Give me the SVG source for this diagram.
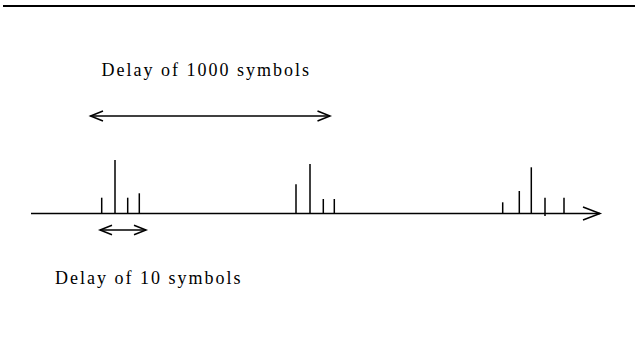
<svg xmlns="http://www.w3.org/2000/svg" width="635" height="340" viewBox="0 0 635 340">
<style>
.ln{stroke:#000;stroke-width:1.5;fill:none}
.hd{stroke:#000;stroke-width:1.5;fill:none;stroke-linejoin:miter}
text{font-family:'Liberation Serif','Times New Roman',Times,serif;font-size:18px;letter-spacing:2px;fill:#000}
</style>
<rect width="635" height="340" fill="#fff"/>
<line x1="3" y1="6" x2="635" y2="6" stroke="#000" stroke-width="1.8"/>
<g id="label-1000"><text x="101.5" y="76">Delay of 1000 symbols</text></g>
<g id="label-10"><text x="55" y="284">Delay of 10 symbols</text></g>
<g id="connectors">
  <g id="arrow-1000">
    <line class="ln" x1="90.5" y1="116" x2="330" y2="116"/>
    <polyline class="hd" points="103,111 90.5,116 103,121"/>
    <polyline class="hd" points="317.5,111 330,116 317.5,121"/>
  </g>
  <g id="arrow-10">
    <line class="ln" x1="100" y1="230" x2="146" y2="230"/>
    <polyline class="hd" points="112,225.3 100,230 112,234.7"/>
    <polyline class="hd" points="134,225.3 146,230 134,234.7"/>
  </g>
  <g id="axis">
    <line class="ln" x1="31" y1="213.5" x2="600" y2="213.5"/>
    <polyline class="hd" points="583,207 600,213.5 583,220"/>
  </g>
</g>
<g id="burst-1">
  <line class="ln" x1="101.7" y1="197.7" x2="101.7" y2="213.5"/>
  <line class="ln" x1="115" y1="160" x2="115" y2="213.5"/>
  <line class="ln" x1="127.7" y1="197.7" x2="127.7" y2="213.5"/>
  <line class="ln" x1="139.3" y1="193.3" x2="139.3" y2="213.5"/>
</g>
<g id="burst-2">
  <line class="ln" x1="296" y1="184.3" x2="296" y2="213.5"/>
  <line class="ln" x1="310" y1="164" x2="310" y2="213.5"/>
  <line class="ln" x1="323.3" y1="199" x2="323.3" y2="213.5"/>
  <line class="ln" x1="334.3" y1="199" x2="334.3" y2="213.5"/>
</g>
<g id="burst-3">
  <line class="ln" x1="502.7" y1="202.3" x2="502.7" y2="213.5"/>
  <line class="ln" x1="519.3" y1="191" x2="519.3" y2="213.5"/>
  <line class="ln" x1="531.3" y1="167.3" x2="531.3" y2="213.5"/>
  <line class="ln" x1="545" y1="197.7" x2="545" y2="216"/>
  <line class="ln" x1="564" y1="197.7" x2="564" y2="213.5"/>
</g>
</svg>
